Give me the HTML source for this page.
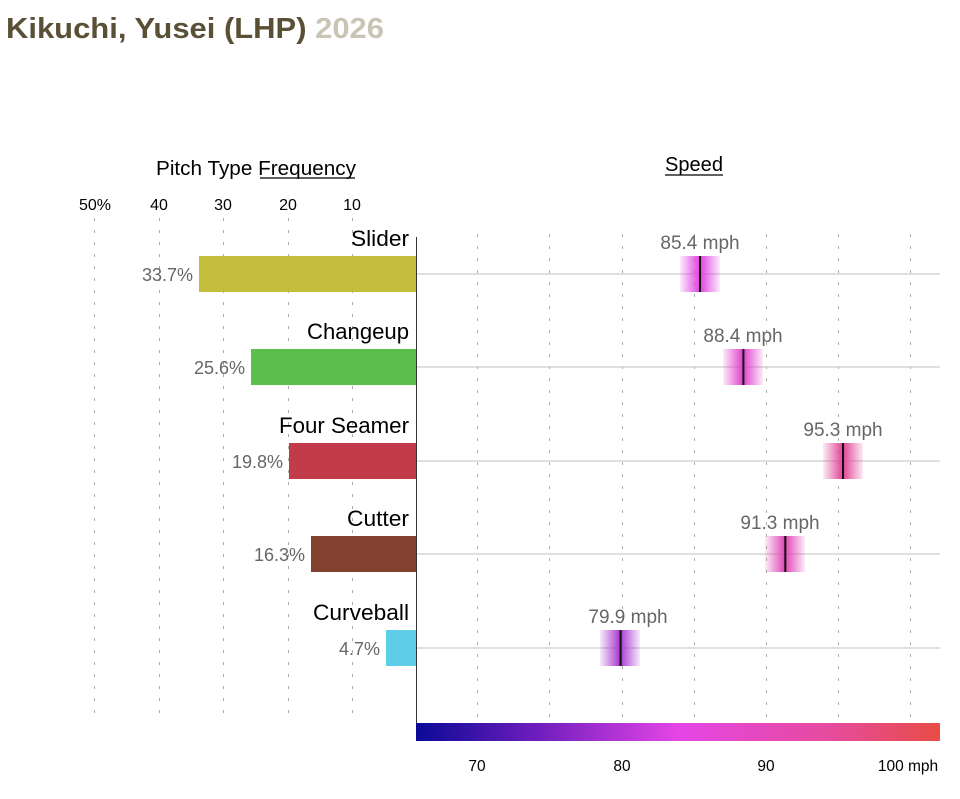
<!DOCTYPE html>
<html><head><meta charset="utf-8"><style>
body{margin:0;background:#fff;}
svg{display:block;font-family:"Liberation Sans",sans-serif;}
</style></head><body>
<svg width="960" height="799" viewBox="0 0 960 799">
<defs>
<linearGradient id="sp" x1="0" x2="1" y1="0" y2="0">
<stop offset="0" stop-color="#0a0a96"/>
<stop offset="0.22" stop-color="#6a1cbc"/>
<stop offset="0.5" stop-color="#e545e6"/>
<stop offset="0.8" stop-color="#e64c9a"/>
<stop offset="1" stop-color="#e84c44"/>
</linearGradient>
<linearGradient id="m1" x1="0" x2="1"><stop offset="0" stop-color="#e040e0" stop-opacity="0.1"/><stop offset="0.5" stop-color="#e040e0"/><stop offset="1" stop-color="#e040e0" stop-opacity="0.1"/></linearGradient>
<linearGradient id="m2" x1="0" x2="1"><stop offset="0" stop-color="#e040cc" stop-opacity="0.1"/><stop offset="0.5" stop-color="#e040cc"/><stop offset="1" stop-color="#e040cc" stop-opacity="0.1"/></linearGradient>
<linearGradient id="m3" x1="0" x2="1"><stop offset="0" stop-color="#e04496" stop-opacity="0.1"/><stop offset="0.5" stop-color="#e04496"/><stop offset="1" stop-color="#e04496" stop-opacity="0.1"/></linearGradient>
<linearGradient id="m4" x1="0" x2="1"><stop offset="0" stop-color="#e046b4" stop-opacity="0.1"/><stop offset="0.5" stop-color="#e046b4"/><stop offset="1" stop-color="#e046b4" stop-opacity="0.1"/></linearGradient>
<linearGradient id="m5" x1="0" x2="1"><stop offset="0" stop-color="#a838d0" stop-opacity="0.1"/><stop offset="0.5" stop-color="#a838d0"/><stop offset="1" stop-color="#a838d0" stop-opacity="0.1"/></linearGradient>
</defs>
<text x="6" y="38" font-size="29" font-weight="bold" fill="#5a5035" textLength="378" lengthAdjust="spacingAndGlyphs">Kikuchi, Yusei (LHP) <tspan fill="#c9c5b6">2026</tspan></text>

<text x="256" y="175" font-size="20" text-anchor="middle" fill="#000" textLength="200" lengthAdjust="spacingAndGlyphs">Pitch Type Frequency</text>
<line x1="260" y1="178" x2="355" y2="178" stroke="#000" stroke-width="1.3"/>
<text x="694" y="171" font-size="20" text-anchor="middle" fill="#000" textLength="58" lengthAdjust="spacingAndGlyphs">Speed</text>
<line x1="665" y1="175" x2="723" y2="175" stroke="#000" stroke-width="1.3"/>

<g font-size="16" fill="#000" text-anchor="middle">
<text x="95" y="210">50%</text><text x="159" y="210">40</text><text x="223" y="210">30</text><text x="288" y="210">20</text><text x="352" y="210">10</text>
</g>
<g stroke="#aaa" stroke-width="1" stroke-dasharray="3,9">
<line x1="94.5" y1="218" x2="94.5" y2="718"/><line x1="159.5" y1="218" x2="159.5" y2="718"/><line x1="223.5" y1="218" x2="223.5" y2="718"/><line x1="288.5" y1="218" x2="288.5" y2="718"/><line x1="352.5" y1="218" x2="352.5" y2="718"/>
<line x1="477.5" y1="234" x2="477.5" y2="718"/><line x1="549.5" y1="234" x2="549.5" y2="718"/><line x1="622.5" y1="234" x2="622.5" y2="718"/><line x1="694.5" y1="234" x2="694.5" y2="718"/><line x1="766.5" y1="234" x2="766.5" y2="718"/><line x1="838.5" y1="234" x2="838.5" y2="718"/><line x1="910.5" y1="234" x2="910.5" y2="718"/>
</g>
<g stroke="#ccc" stroke-width="1.3">
<line x1="416" y1="274" x2="940" y2="274"/><line x1="416" y1="367" x2="940" y2="367"/><line x1="416" y1="461" x2="940" y2="461"/><line x1="416" y1="554" x2="940" y2="554"/><line x1="416" y1="648" x2="940" y2="648"/>
</g>

<rect x="199" y="256" width="217" height="36" fill="#c4bd3d"/>
<rect x="251" y="349" width="165" height="36" fill="#5bbf4c"/>
<rect x="289" y="443" width="127" height="36" fill="#c23b4a"/>
<rect x="311" y="536" width="105" height="36" fill="#84402e"/>
<rect x="386" y="630" width="30" height="36" fill="#5fcde6"/>
<line x1="416.5" y1="237" x2="416.5" y2="723" stroke="#333" stroke-width="1"/>

<g font-size="22" fill="#000" text-anchor="end">
<text x="409" y="246" textLength="58" lengthAdjust="spacingAndGlyphs">Slider</text>
<text x="409" y="339" textLength="102" lengthAdjust="spacingAndGlyphs">Changeup</text>
<text x="409" y="433" textLength="130" lengthAdjust="spacingAndGlyphs">Four Seamer</text>
<text x="409" y="526" textLength="62" lengthAdjust="spacingAndGlyphs">Cutter</text>
<text x="409" y="620" textLength="96" lengthAdjust="spacingAndGlyphs">Curveball</text>
</g>
<g font-size="18" fill="#666" text-anchor="end">
<text x="193" y="281">33.7%</text>
<text x="245" y="374">25.6%</text>
<text x="283" y="468">19.8%</text>
<text x="305" y="561">16.3%</text>
<text x="380" y="655">4.7%</text>
</g>

<rect x="680" y="256" width="40" height="36" fill="url(#m1)"/><line x1="700" y1="256" x2="700" y2="292" stroke="#111" stroke-width="2"/>
<rect x="723" y="349" width="40" height="36" fill="url(#m2)"/><line x1="743.4" y1="349" x2="743.4" y2="385" stroke="#111" stroke-width="2"/>
<rect x="823" y="443" width="40" height="36" fill="url(#m3)"/><line x1="843" y1="443" x2="843" y2="479" stroke="#111" stroke-width="2"/>
<rect x="765" y="536" width="40" height="36" fill="url(#m4)"/><line x1="785.3" y1="536" x2="785.3" y2="572" stroke="#111" stroke-width="2"/>
<rect x="600" y="630" width="40" height="36" fill="url(#m5)"/><line x1="620.6" y1="630" x2="620.6" y2="666" stroke="#111" stroke-width="2"/>

<g font-size="19" fill="#666" text-anchor="middle">
<text x="700" y="249">85.4 mph</text>
<text x="743" y="342">88.4 mph</text>
<text x="843" y="436">95.3 mph</text>
<text x="780" y="529">91.3 mph</text>
<text x="628" y="623">79.9 mph</text>
</g>

<rect x="416" y="723" width="524" height="18" fill="url(#sp)"/>
<g font-size="15.5" fill="#000" text-anchor="middle">
<text x="477" y="771">70</text><text x="622" y="771">80</text><text x="766" y="771">90</text><text x="908" y="771">100 mph</text>
</g>
</svg>
</body></html>
